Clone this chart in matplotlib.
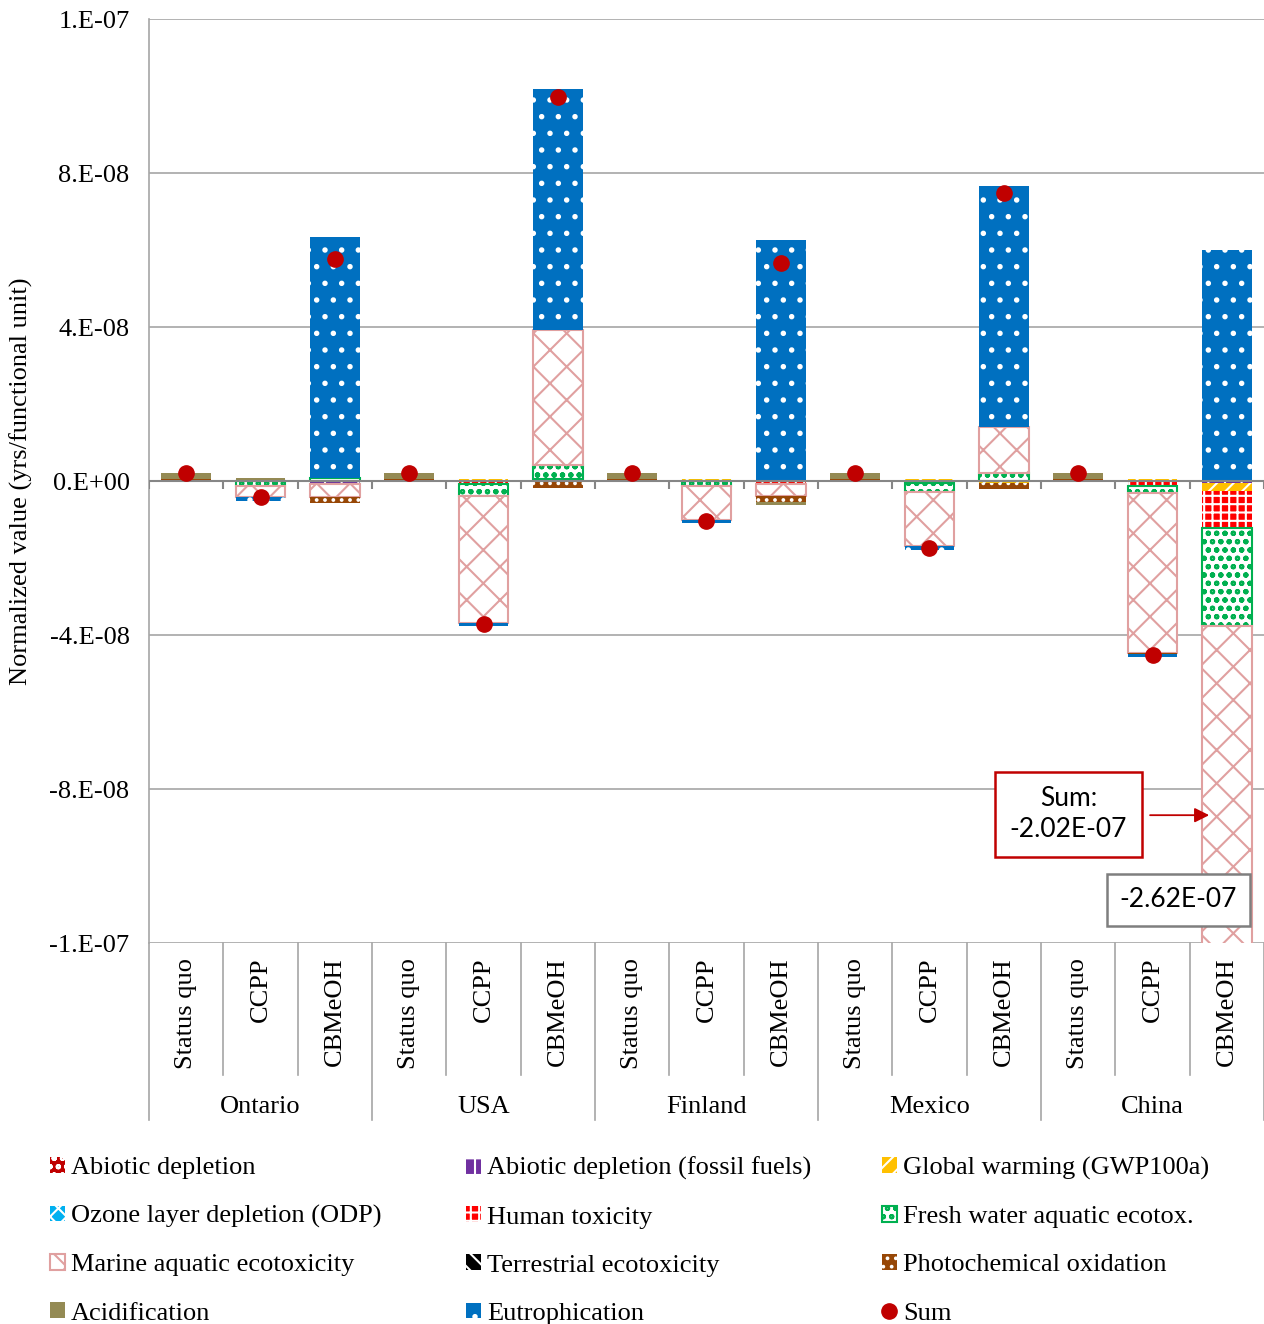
import numpy as np
import matplotlib
matplotlib.use('Agg')
from matplotlib import pyplot as plt
from matplotlib.patches import Patch
from matplotlib.lines import Line2D

plt.rcParams['font.family'] = ['Liberation Serif', 'DejaVu Serif']
plt.rcParams['hatch.linewidth'] = 1.5

# categories
groups = ['Ontario', 'USA', 'Finland', 'Mexico', 'China']
cases = ['Status quo', 'CCPP', 'CBMeOH']
cats = cases * len(groups)

# values, in units of 1E-08
abiotic       = [0, 0, 0, 0, 0, 0, 0, 0, 0, 0, 0, 0, 0, 0, 0]
abiotic_ff    = [0, 0, -0.08, 0, 0, 0, 0, 0, 0, 0, 0, 0, 0, 0, -0.06]
gwp           = [0.02, 0, 0, 0.02, 0.05, 0, 0.02, 0.05, 0, 0.02, 0.05, -0.04, 0.02, 0.05, -0.20]
odp           = [0, 0, 0, 0, 0, 0, 0, 0, 0, 0, 0, 0, 0, 0, 0]
human_tox     = [0, 0, 0, 0, -0.08, 0.06, 0, 0, -0.07, 0, -0.06, 0, 0, -0.13, -0.95]
fresh_water   = [0, -0.12, 0.07, 0, -0.31, 0.36, 0, -0.13, 0, 0, -0.22, 0.20, 0, -0.18, -2.55]
marine        = [0, -0.30, -0.34, 0, -3.30, 3.50, 0, -0.88, -0.32, 0, -1.40, 1.19, 0, -4.16, -22.41]
terrestrial   = [0, 0, 0, 0, 0, 0, 0, 0, 0, 0, 0, 0, 0, 0, 0]
photochem     = [0.04, 0, -0.16, 0.04, 0, -0.18, 0.04, 0, -0.16, 0.04, 0, -0.18, 0.04, -0.03, 0]
acidification = [0.15, 0.07, 0, 0.15, 0, 0, 0.15, 0, -0.08, 0.15, 0, 0, 0.15, 0, 0]
eutrophication = [0, -0.10, 6.27, 0, -0.08, 6.26, 0, -0.08, 6.26, 0, -0.12, 6.27, 0, -0.08, 6.00]
sums          = [0.21, -0.42, 5.77, 0.21, -3.71, 9.97, 0.21, -1.04, 5.66, 0.21, -1.75, 7.48, 0.21, -4.52, -20.2]

ytick_vals = [-1.2e-7, -8e-8, -4e-8, 0, 4e-8, 8e-8, 1.2e-7]
ytick_labels = ['-1.E-07', '-8.E-08', '-4.E-08', '0.E+00', '4.E-08', '8.E-08', '1.E-07']

sum_label = 'Sum:\n-2.02E-07'
neg_label = '-2.62E-07'

# (name, values, face, hatch colour, hatch, outline)
series = [
    ('Abiotic depletion', abiotic, '#C00000', 'white', 'oo', False),
    ('Abiotic depletion (fossil fuels)', abiotic_ff, '#7030A0', 'white', '+', False),
    ('Global warming (GWP100a)', gwp, '#FFC000', 'white', '//', False),
    ('Ozone layer depletion (ODP)', odp, '#00B0F0', 'white', 'xx', False),
    ('Human toxicity', human_tox, '#FF0000', 'white', '++', False),
    ('Fresh water aquatic ecotox.', fresh_water, 'white', '#00B050', 'oo', True),
    ('Marine aquatic ecotoxicity', marine, 'white', '#E0A0A0', 'x', True),
    ('Terrestrial ecotoxicity', terrestrial, 'black', 'white', '\\\\', False),
    ('Photochemical oxidation', photochem, '#974706', 'white', '..', False),
    ('Acidification', acidification, '#948A54', '#948A54', '', False),
    ('Eutrophication', eutrophication, '#0070C0', 'white', '.', False),
]

fig = plt.figure(figsize=(12.64, 13.24), dpi=100)
ax = fig.add_axes([149 / 1264, 1 - 943 / 1324, 1115 / 1264, 924 / 1324])

x = np.arange(len(cats))
pos_bottom = np.zeros(len(cats))
neg_bottom = np.zeros(len(cats))
handles = []
for name, vals, face, hcol, hatch, outline in series:
    v = np.array(vals) * 1e-8
    bottom = np.where(v >= 0, pos_bottom, neg_bottom)
    ax.bar(x, v, width=0.67, bottom=bottom, color=face, edgecolor=hcol, hatch=hatch,
           linewidth=1.5 if outline else 0, zorder=3)
    pos_bottom += np.where(v > 0, v, 0)
    neg_bottom += np.where(v < 0, v, 0)
    handles.append(Patch(facecolor=face, edgecolor=hcol, hatch=hatch,
                         linewidth=1.5 if outline else 0))

ax.plot(x, np.array(sums) * 1e-8, 'o', color='#C00000', markersize=11, zorder=5)
handles.append(Line2D([], [], marker='o', color='#C00000', linestyle='none', markersize=11))
labels = [s[0] for s in series] + ['Sum']

ax.set_xlim(-0.5, len(cats) - 0.5)
ax.set_ylim(-1.2e-7, 1.2e-7)
ax.set_yticks(ytick_vals)
ax.set_yticklabels(ytick_labels, fontsize=19)
ax.tick_params(axis='y', length=0, pad=14)
ax.set_xticks([])
ax.grid(axis='y', color='#A6A6A6', linewidth=1.2, zorder=0)
ax.set_axisbelow(True)
for sp in ['top', 'right', 'bottom']:
    ax.spines[sp].set_visible(False)
ax.spines['left'].set_color('#A6A6A6')
ax.spines['left'].set_linewidth(1.2)
ax.set_ylabel('Normalized value (yrs/functional unit)', fontsize=19, labelpad=12)

# zero axis with tick marks between categories
ax.axhline(0, color='#868686', linewidth=1.5, zorder=4)
ax.vlines(np.arange(len(cats) + 1) - 0.5, 0, -2.2e-9, color='#868686', linewidth=1.5, zorder=4)

# multi-level category labels below the plot
tr = ax.get_xaxis_transform()
for i, c in enumerate(cats):
    ax.text(i, -0.016, c, rotation=90, ha='center', va='top', fontsize=19, transform=tr)
for k in range(len(cats) + 1):
    bx = k - 0.5
    if k % 3 == 0:
        ax.plot([bx, bx], [0, -0.1916], color='#A6A6A6', linewidth=1.2, transform=tr, clip_on=False)
    else:
        ax.plot([bx, bx], [0, -0.143], color='#A6A6A6', linewidth=1.2, transform=tr, clip_on=False)
for g, name in enumerate(groups):
    ax.text(3 * g + 1, -0.177, name, ha='center', va='center', fontsize=19, transform=tr)

# annotations for the China CBMeOH bar
ax.text(11.87, -8.65e-8, sum_label, ha='center', va='center', fontsize=19, family='Lato',
        linespacing=1.3, zorder=6,
        bbox=dict(boxstyle='square,pad=0.55', facecolor='white', edgecolor='#C00000', linewidth=1.8))
ax.annotate('', xy=(13.8, -8.68e-8), xytext=(12.93, -8.68e-8),
            arrowprops=dict(arrowstyle='-|>', color='#C00000', lw=1.3, mutation_scale=22), zorder=6)
ax.text(13.35, -1.088e-7, neg_label, ha='center', va='center', fontsize=19, family='Lato', zorder=6,
        bbox=dict(boxstyle='square,pad=0.5', facecolor='white', edgecolor='#7F7F7F', linewidth=1.8))

# legend, one column at a time (entries read row-wise)
col_x = [50 / 1264, 466 / 1264, 882 / 1264]
for c in range(3):
    idx = [c, c + 3, c + 6, c + 9]
    fig.legend([handles[i] for i in idx], [labels[i] for i in idx], loc='upper left',
               bbox_to_anchor=(col_x[c], 1 - 1157 / 1324), frameon=False, fontsize=19,
               handlelength=0.55, handleheight=0.55, handletextpad=0.25, labelspacing=0.98,
               borderpad=0, borderaxespad=0)

fig.savefig('out.png', dpi=100)
